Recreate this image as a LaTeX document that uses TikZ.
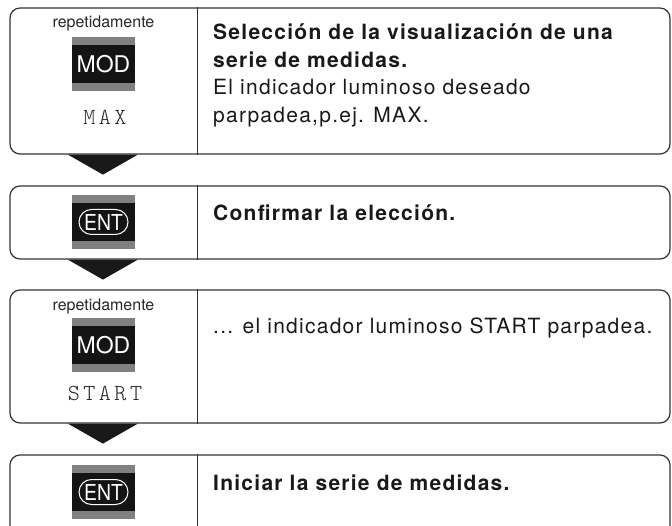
\documentclass[tikz,border=0pt]{standalone}
\usepackage{fontspec}
\setmainfont{TeX Gyre Heros}
\newfontfamily\descfont[LetterSpace=6]{TeX Gyre Heros}
\newfontfamily\entfont[FakeStretch=0.88]{TeX Gyre Heros}
\newfontfamily\lcdfont[Extension=.otf,LetterSpace=15]{lmmonolt10-regular}
\usetikzlibrary{calc,positioning}

% key: node name, centre x, top y, key text
\newcommand{\keyblock}[4]{%
  \fill[keygray] (#2-31.5,#3) rectangle (#2+31.5,#3+54);
  \node[keycap] (#1) at (#2,#3+27) {#4};
}

\begin{document}
\begin{tikzpicture}[x=1pt,y=-1pt,
    stepbox/.style={draw=black!80,line width=1.2pt,rounded corners=10pt,minimum width=660,inner sep=0},
    divider/.style={draw=black!80,line width=1.2pt},
    flowtri/.style={fill=black!90},
    keygray/.style={fill=black!50},
    keycap/.style={fill=black!92,text=white,minimum width=63,minimum height=38,inner sep=0,font=\fontsize{23}{23}\selectfont},
    entoval/.style={draw=white,line width=1pt,rounded corners=12.5,minimum width=49,minimum height=25,inner sep=0,text=white,font=\entfont\fontsize{22}{22}\selectfont},
    hint/.style={text=black!85,inner sep=0,font=\fontsize{16}{16}\selectfont},
    lcd/.style={text=black!85,inner sep=0,font=\lcdfont\fontsize{23}{23}\selectfont},
    desc/.style={anchor=north west,align=left,inner sep=0,text=black!90,font=\descfont\fontsize{21}{27.5}\selectfont}]

%the page
\clip (0,0) rectangle (672,526);

%the four steps
\node[stepbox, minimum height=146] (row1) at (340,81) {};
\node[stepbox, minimum height=73] (row2) at (340,222.5) {};
\node[stepbox, minimum height=133] (row3) at (340,356.5) {};
\node[stepbox, minimum height=105] (row4) at (340,507.5) {};

%column lines and arrows
\foreach \r in {row1,row2,row3,row4}
    \draw[divider] ($(\r.north west)+(188,0)$) -- ($(\r.south west)+(188,0)$);
\foreach \r in {row1,row2,row3}
    \fill[flowtri] ($(\r.south west)+(58.5,0)$) -- ++(70,0) -- ++(-35,20) -- cycle;

%the keys
\keyblock{k1}{103.5}{37}{MOD}
\keyblock{k2}{103.5}{195}{}
\keyblock{k3}{103.5}{318}{MOD}
\keyblock{k4}{103.5}{465}{}
\node[entoval] (ent2) at (k2) {ENT};
\node[entoval] (ent4) at (k4) {ENT};

%left column texts
\node[hint, anchor=base] (rep1) at (103.5,28) {repetidamente};
\node[lcd, anchor=base] (disp1) at (105,125) {MAX};
\node[hint, anchor=base] (rep3) at (103.5,311) {repetidamente};
\node[lcd, anchor=base] (disp3) at (105,400) {START};

%right column texts
\node[desc] (txt1) at (213,24) {\textbf{Selección de la visualización de una}\\
    \textbf{serie de medidas.}\\ El indicador luminoso deseado\\ parpadea,p.ej. MAX.};
\node[desc] (txt2) at (213,205) {\textbf{Confirmar la elección.}};
\node[desc] (txt3) at (213,318) {... el indicador luminoso START parpadea.};
\node[desc] (txt4) at (213,475) {\textbf{Iniciar la serie de medidas.}};
\end{tikzpicture}
\end{document}
